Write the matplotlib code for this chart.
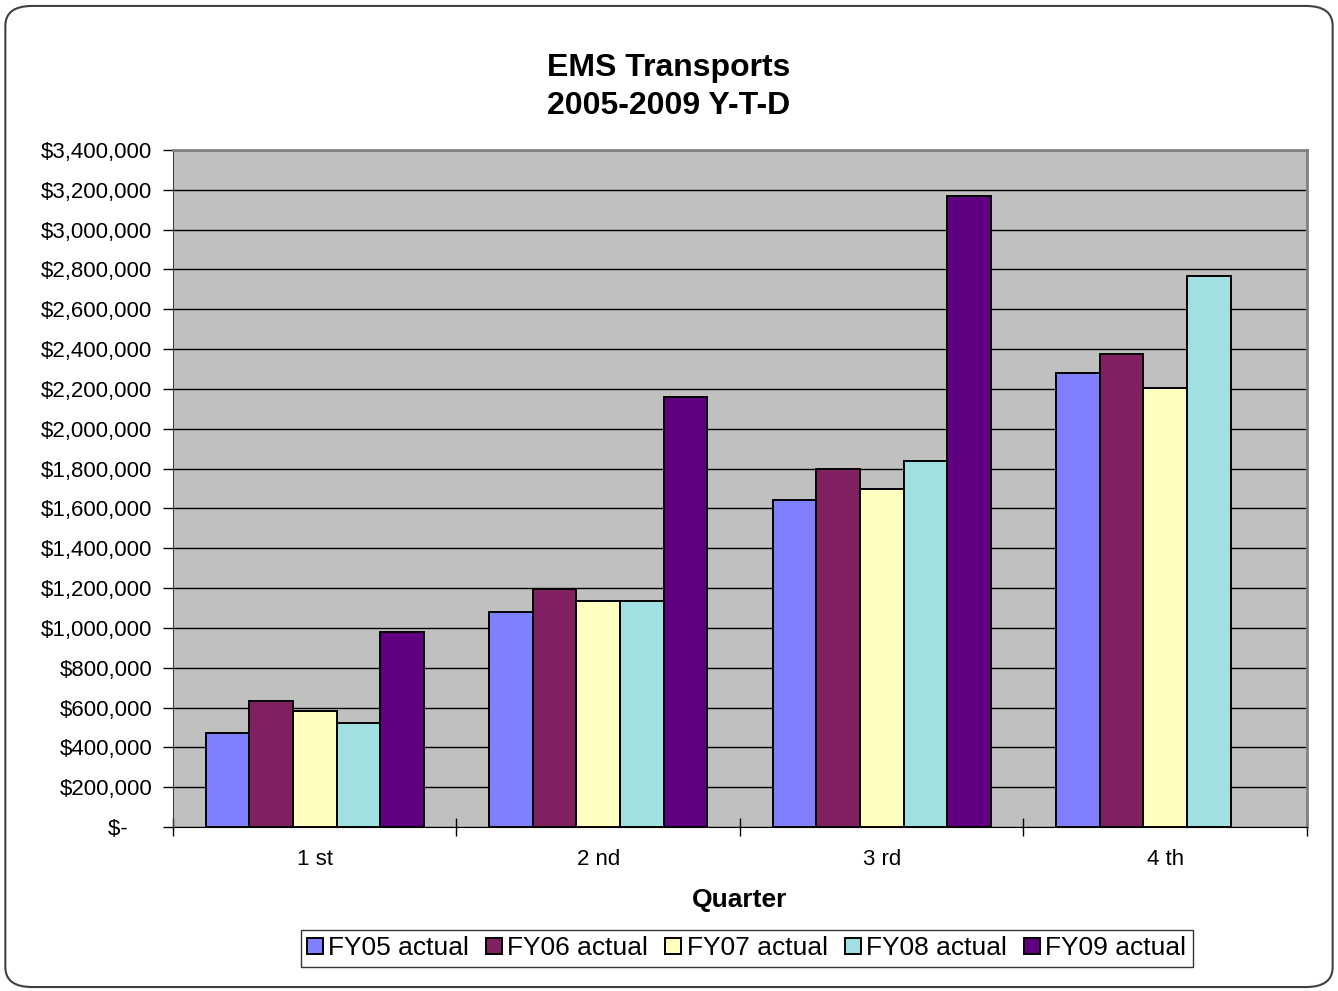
import numpy as np
import matplotlib.pyplot as plt
from matplotlib.patches import FancyBboxPatch
from matplotlib.ticker import FuncFormatter, FixedLocator, NullFormatter

plt.rcParams.update({
    "font.family": ["Liberation Sans", "DejaVu Sans"],
})

quarters = ["1 st", "2 nd", "3 rd", "4 th"]
series = ["FY05 actual", "FY06 actual", "FY07 actual", "FY08 actual", "FY09 actual"]
fy05 = [472000, 1080000, 1643000, 2281000]
fy06 = [633000, 1196000, 1799000, 2377000]
fy07 = [583000, 1136000, 1698000, 2206000]
fy08 = [523000, 1136000, 1839000, 2769000]
fy09 = [980000, 2161000, 3171000, np.nan]
colors = ["#8080FF", "#802060", "#FFFFC0", "#A0E0E0", "#600080"]

fig = plt.figure(figsize=(13.38, 9.91), dpi=100)
ax = fig.add_axes([0.1293, 0.1655, 0.9768 - 0.1293, 0.8486 - 0.1655])

# rounded outer frame
frame = FancyBboxPatch((0.004, 0.004), 0.992, 0.99, boxstyle="round,pad=0,rounding_size=0.02",
                       transform=fig.transFigure, facecolor="none", edgecolor="#404040",
                       linewidth=1.5, zorder=0)
fig.patches.append(frame)

x = np.arange(len(quarters))
w = 1 / 6.5
for i, vals in enumerate([fy05, fy06, fy07, fy08, fy09]):
    ax.bar(x + (i - 2) * w, vals, width=w, color=colors[i], edgecolor="black",
           linewidth=1.4, label=series[i], zorder=3)

ax.set_facecolor("#C0C0C0")
ax.set_xlim(-0.5, 3.5)
ax.set_ylim(0, 3400000)
ax.set_yticks(np.arange(0, 3400001, 200000))
ax.yaxis.set_major_formatter(FuncFormatter(
    lambda v, p: "$-    " if v == 0 else "${:,.0f}".format(v)))
ax.grid(axis="y", color="black", linewidth=1.0, zorder=1)
ax.tick_params(axis="y", direction="out", length=7, width=1, labelsize=16, pad=8)

ax.xaxis.set_major_locator(FixedLocator([-0.5, 0.5, 1.5, 2.5, 3.5]))
ax.xaxis.set_major_formatter(NullFormatter())
ax.xaxis.set_minor_locator(FixedLocator(x))
ax.set_xticks(x, quarters, minor=True)
ax.tick_params(axis="x", which="major", direction="inout", length=13, width=1)
ax.tick_params(axis="x", which="minor", length=0, labelsize=16, pad=16)

for s in ["top", "right"]:
    ax.spines[s].set_color("#808080")
    ax.spines[s].set_linewidth(2)
ax.spines["left"].set_color("#404040")
ax.spines["bottom"].set_color("black")

ax.set_xlabel("Quarter", fontsize=19, fontweight="bold", labelpad=13)
fig.suptitle("EMS Transports\n2005-2009 Y-T-D", fontsize=23, fontweight="bold",
             y=0.947, linespacing=1.38)

leg = fig.legend(loc="center", bbox_to_anchor=(0.558, 0.043), ncol=5, fontsize=19,
                 frameon=True, fancybox=False, edgecolor="black", handlelength=0.6,
                 handleheight=0.6, handletextpad=0.2, columnspacing=0.65,
                 borderpad=0.25)
leg.get_frame().set_linewidth(1.0)

fig.savefig("out.png", dpi=100)
